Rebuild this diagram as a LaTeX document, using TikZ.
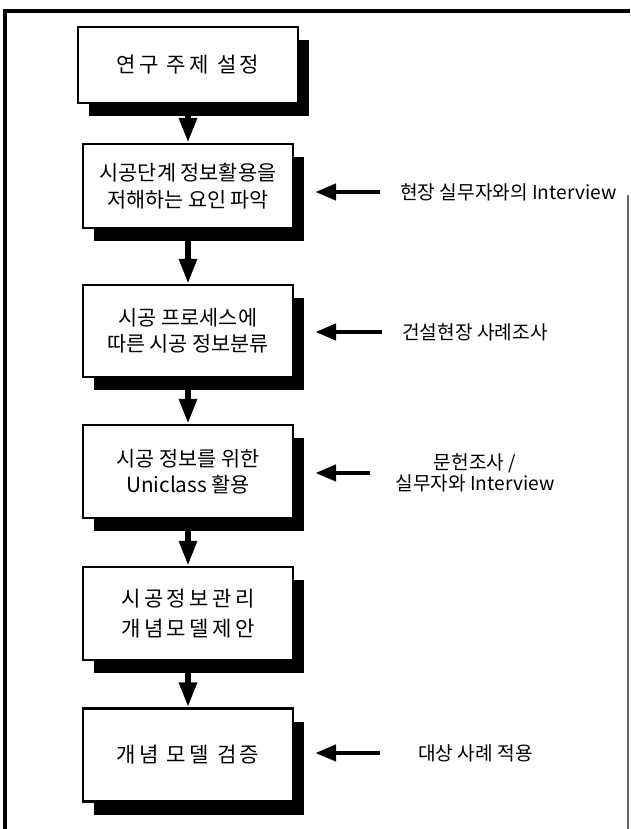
\documentclass[tikz,border=0pt]{standalone}
\usepackage{fontspec}
\newfontfamily\kr{Noto Sans CJK KR}
\newfontfamily\krwide{Noto Sans CJK KR}[LetterSpace=16]
\usetikzlibrary{arrows.meta,positioning,shadows}

\begin{document}
\begin{tikzpicture}[
    font=\kr,
    stepbox/.style={
        draw=black,
        line width=1.4pt,
        fill=white,
        minimum width=4.2cm,
        minimum height=1.86cm,
        align=center,
        inner sep=1pt,
        font=\kr\fontsize{11.8}{15}\selectfont,
        drop shadow={shadow xshift=0.22cm,shadow yshift=-0.26cm,fill=black,opacity=1}
    },
    widebox/.style={
        stepbox,
        font=\krwide\fontsize{12}{17}\selectfont
    },
    note/.style={
        align=center,
        inner sep=0pt,
        font=\kr\fontsize{10.9}{12}\selectfont
    },
    arr/.style={-{Triangle[width=0.34cm,length=0.5cm]}, line width=3.4pt},
    sidearr/.style={-{Triangle[width=0.32cm,length=0.42cm]}, line width=2.6pt,
        shorten >=0.42cm, shorten <=0.4cm}
]

% frame
\useasboundingbox (0,0) rectangle (12.6,-16.58);
\draw[line width=2.3pt] (0.1,-16.58) -- (0.1,-0.22) -- (12.6,-0.22);
\draw[black!60, line width=0.6pt] (12.56,-3.9) -- (12.56,-16.58);

% main steps
\node[widebox, minimum width=4.4cm, minimum height=1.52cm] (topic) at (3.76,-1.3)
{연구 주제 설정};

\node[stepbox, minimum height=1.68cm] (barrier) at (3.76,-3.72)
{시공단계 정보활용을\\저해하는 요인 파악};

\node[stepbox, minimum height=1.84cm] (classify) at (3.76,-6.62)
{시공 프로세스에\\따른 시공 정보분류};

\node[stepbox] (uniclass) at (3.76,-9.43)
{시공 정보를 위한\\Uniclass 활용};

\node[widebox] (model) at (3.76,-12.27)
{시공정보관리\\개념모델제안};

\node[widebox] (verify) at (3.76,-15.1)
{개념 모델 검증};

\draw[arr] (topic.south) -- (barrier.north);
\draw[arr] (barrier.south) -- (classify.north);
\draw[arr] (classify.south) -- (uniclass.north);
\draw[arr] (uniclass.south) -- (model.north);
\draw[arr] (model.south) -- (verify.north);

% methods
\node[note, anchor=west] (interview) at (8.0,-3.84)
{현장 실무자와의 Interview};

\node[note, anchor=west] (casestudy) at (8.04,-6.64)
{건설현장 사례조사};

\node[note] (literature) at (9.5,-9.46)
{문헌조사 /\\실무자와 Interview};

\node[note, anchor=west] (apply) at (8.36,-15.06)
{대상 사례 적용};

\draw[sidearr] (interview.west) -- (interview.west -| barrier.east);
\draw[sidearr] (casestudy.west) -- (casestudy.west -| classify.east);
\draw[sidearr, shorten <=0.5cm] (literature.west) -- (literature.west -| uniclass.east);
\draw[sidearr, shorten <=0.76cm] (apply.west) -- (apply.west -| verify.east);

\end{tikzpicture}
\end{document}
